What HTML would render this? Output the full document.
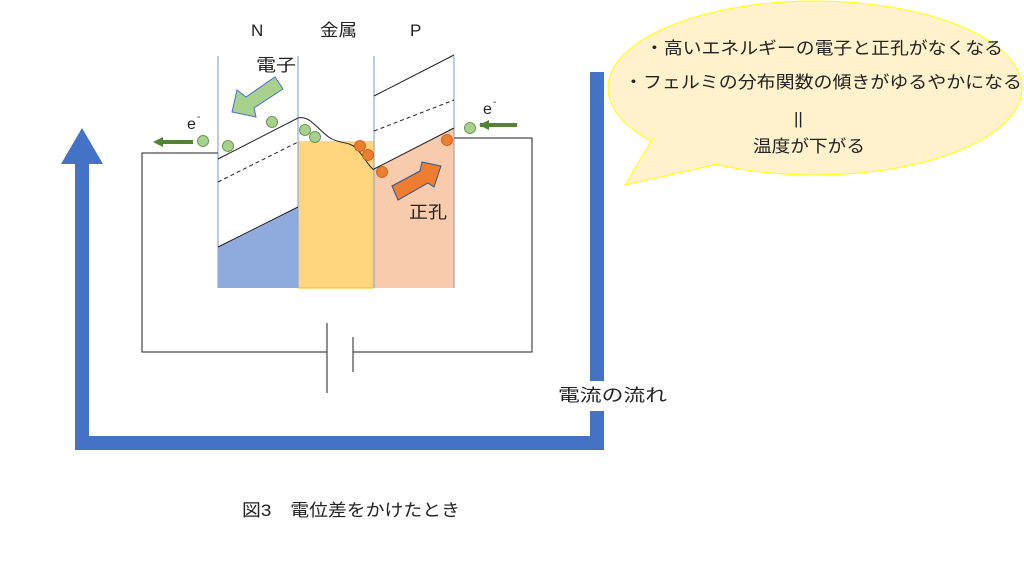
<!DOCTYPE html>
<html><head><meta charset="utf-8"><style>
html,body{margin:0;padding:0;background:#fff;}
svg{display:block;}
text{font-family:"Liberation Sans","Noto Sans CJK JP",sans-serif;fill:#222;}
</style></head><body>
<svg width="1024" height="576" viewBox="0 0 1024 576" xmlns="http://www.w3.org/2000/svg">
<!-- blue current arrow -->
<polyline points="597,72 597,443 82,443 82,160" fill="none" stroke="#4472c4" stroke-width="14"/>
<polygon points="61,164 103,164 82,128" fill="#4472c4"/>
<rect x="555" y="381" width="115" height="30" fill="#fff"/>
<text x="558" y="401" font-size="17" textLength="109" lengthAdjust="spacingAndGlyphs">電流の流れ</text>

<!-- fills -->
<polygon points="218,247 298,207 298,288 218,288" fill="#8faadc"/>
<rect x="298" y="141" width="76" height="147" fill="#ffd57e"/>
<polygon points="374,169 454,128 454,288 374,288" fill="#f8cbad"/>
<line x1="298" y1="288" x2="374" y2="288" stroke="#ffc000" stroke-width="1"/>

<!-- column lines -->
<g stroke="#8faadc" stroke-width="1.2">
<line x1="218" y1="56" x2="218" y2="288"/>
<line x1="298" y1="56" x2="298" y2="288"/>
<line x1="374" y1="56" x2="374" y2="288"/>
<line x1="454" y1="56" x2="454" y2="288"/>
</g>

<!-- bands -->
<g stroke="#222" stroke-width="1" fill="none">
<line x1="218" y1="159" x2="298" y2="118"/>
<line x1="218" y1="182" x2="298" y2="142" stroke-dasharray="4,3"/>
<line x1="218" y1="247" x2="298" y2="207"/>
<line x1="374" y1="96" x2="454" y2="55"/>
<line x1="374" y1="131" x2="454" y2="100" stroke-dasharray="4,3"/>
<line x1="374" y1="169" x2="454" y2="128"/>
<path d="M298,118 C310,115 318,130 330,138 C340,144 348,141 356,148 C364,156 368,166 374,170"/>
</g>

<!-- circuit -->
<g stroke="#222" stroke-width="1" fill="none">
<polyline points="218,153 142,153 142,352 327,352"/>
<polyline points="454,138 532,138 532,352 353,352"/>
<line x1="327" y1="323" x2="327" y2="393"/>
<line x1="353" y1="337" x2="353" y2="372"/>
</g>

<!-- big arrows -->
<polygon points="275,77 283,89 254,108 256,117 232,112 237,90 246,97" fill="#a9d18e" stroke="#4472c4" stroke-width="1"/>
<polygon points="392,186 420,171 422,162 441,166 434,187 428,183 398,200" fill="#ed7d31" stroke="#2f5597" stroke-width="1"/>

<!-- small dark green arrows -->
<line x1="162" y1="142" x2="193" y2="142" stroke="#548235" stroke-width="4"/>
<polygon points="153,142 163,137 163,147" fill="#548235"/>
<line x1="480" y1="125" x2="517" y2="125" stroke="#548235" stroke-width="4"/>
<polygon points="479,125 489,120 489,130" fill="#548235"/>

<!-- particles -->
<g fill="#a9d18e" stroke="#548235" stroke-width="0.8">
<circle cx="203" cy="141" r="5.5"/><circle cx="228" cy="146" r="5.5"/>
<circle cx="272" cy="122" r="5.5"/><circle cx="305" cy="130" r="5.5"/>
<circle cx="315" cy="137" r="5.5"/><circle cx="470" cy="128" r="5.5"/>
</g>
<g fill="#ed7d31" stroke="#c55a11" stroke-width="0.8">
<circle cx="360" cy="146" r="5.5"/><circle cx="368" cy="155" r="5.5"/>
<circle cx="382" cy="172" r="5.5"/><circle cx="447" cy="140" r="5.5"/>
</g>

<!-- labels -->
<text x="251" y="36" font-size="17">N</text>
<text x="320" y="36" font-size="17" textLength="37" lengthAdjust="spacingAndGlyphs">金属</text>
<text x="410" y="36" font-size="17">P</text>
<text x="256" y="71" font-size="17" textLength="40" lengthAdjust="spacingAndGlyphs">電子</text>
<text x="409" y="218" font-size="17" textLength="38" lengthAdjust="spacingAndGlyphs">正孔</text>
<text x="187" y="129" font-size="16">e</text><text x="197" y="120" font-size="10">-</text>
<text x="483" y="114" font-size="16">e</text><text x="493" y="105" font-size="10">-</text>
<text x="242" y="516" font-size="17" textLength="218" lengthAdjust="spacingAndGlyphs">図3　電位差をかけたとき</text>

<!-- speech bubble -->
<ellipse cx="815" cy="88" rx="207" ry="87" fill="#fff2cc" stroke="#ffff00" stroke-width="1"/>
<polygon points="653,138 625,185 718,164" fill="#fff2cc"/>
<polyline points="653,138 625,185 718,164" fill="none" stroke="#ffff00" stroke-width="1"/>
<text x="645" y="54" font-size="17" textLength="358" lengthAdjust="spacingAndGlyphs">・高いエネルギーの電子と正孔がなくなる</text>
<text x="624" y="88" font-size="17" textLength="398" lengthAdjust="spacingAndGlyphs">・フェルミの分布関数の傾きがゆるやかになる</text>
<text x="794" y="124" font-size="17">||</text>
<text x="753" y="152" font-size="17" textLength="112" lengthAdjust="spacingAndGlyphs">温度が下がる</text>
</svg>
</body></html>
